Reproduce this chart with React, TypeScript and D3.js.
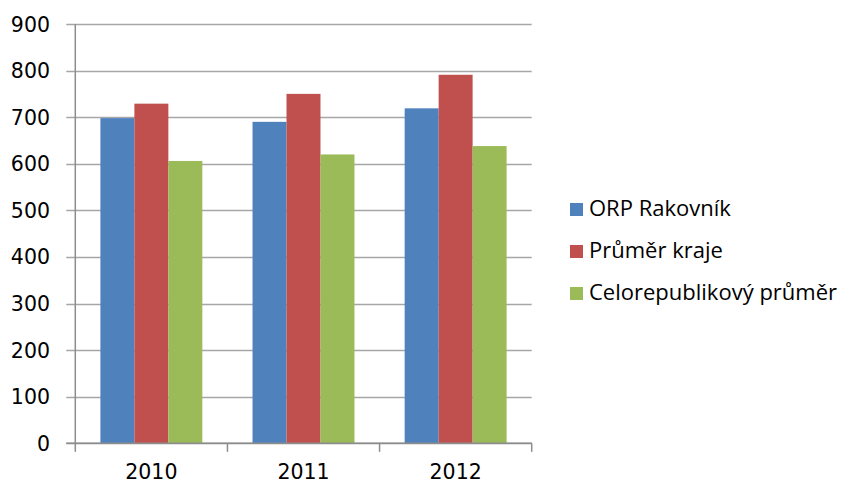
import { useEffect, useRef } from "react";
import * as d3 from "d3";

// data
const years = ["2010", "2011", "2012"];
const seriesNames = ["ORP Rakovník", "Průměr kraje", "Celorepublikový průměr"];
const orpRakovnik = [698, 690, 719];
const prumerKraje = [729, 750, 791];
const celorepublikovy = [606, 620, 638];
const yTicks = [0, 100, 200, 300, 400, 500, 600, 700, 800, 900];
const colors = ["#4F81BD", "#C0504D", "#9BBB59"];

const W = 845;
const H = 483;

export default function App() {
  const ref = useRef<SVGSVGElement | null>(null);

  useEffect(() => {
    if (!ref.current) return;
    const svg = d3.select(ref.current);
    svg.selectAll("*").remove();

    const left = 75.3, right = 531.7, top = 24, bottom = 443.3;
    const values = [orpRakovnik, prumerKraje, celorepublikovy];

    const x = d3.scaleBand<string>().domain(years).range([left, right]).paddingInner(0.33).paddingOuter(0.165);
    const xs = d3.scaleBand<number>().domain(d3.range(seriesNames.length)).range([0, x.bandwidth()]);
    const y = d3.scaleLinear().domain([0, 900]).range([bottom, top]);

    // gridlines + y ticks
    const gy = svg.append("g");
    gy.selectAll("line")
      .data(yTicks)
      .join("line")
      .attr("x1", left - 9)
      .attr("x2", right)
      .attr("y1", d => Math.round(y(d)) + 0.5)
      .attr("y2", d => Math.round(y(d)) + 0.5)
      .attr("stroke", d => (d === 0 ? "#8c8c8c" : "#a6a6a6"))
      .attr("stroke-width", 1.5);
    gy.selectAll("text")
      .data(yTicks)
      .join("text")
      .attr("x", 50)
      .attr("y", d => y(d) + 7.5)
      .attr("text-anchor", "end")
      .attr("font-family", "DejaVu Sans, sans-serif")
      .attr("font-size", 20.5)
      .attr("fill", "#000")
      .text(d => d);

    // bars
    years.forEach((yr, i) => {
      svg.append("g")
        .selectAll("rect")
        .data(values.map((v, s) => ({ s, v: v[i] })))
        .join("rect")
        .attr("x", d => x(yr)! + xs(d.s)!)
        .attr("y", d => y(d.v))
        .attr("width", xs.bandwidth())
        .attr("height", d => bottom - y(d.v))
        .attr("fill", d => colors[d.s]);
    });

    // axes lines
    svg.append("line")
      .attr("x1", left).attr("x2", left)
      .attr("y1", top).attr("y2", bottom)
      .attr("stroke", "#8c8c8c").attr("stroke-width", 1.5);
    const bounds = [left, ...years.map(yr => x(yr)! + x.bandwidth() + (x.step() - x.bandwidth()) / 2)];
    svg.append("g")
      .selectAll("line")
      .data(bounds)
      .join("line")
      .attr("x1", d => d).attr("x2", d => d)
      .attr("y1", bottom).attr("y2", bottom + 8.5)
      .attr("stroke", "#8c8c8c").attr("stroke-width", 1.5);
    svg.append("line")
      .attr("x1", left - 9).attr("x2", right)
      .attr("y1", bottom).attr("y2", bottom)
      .attr("stroke", "#8c8c8c").attr("stroke-width", 1.5);

    // x labels
    svg.append("g")
      .selectAll("text")
      .data(years)
      .join("text")
      .attr("x", d => x(d)! + x.bandwidth() / 2)
      .attr("y", 479)
      .attr("text-anchor", "middle")
      .attr("font-family", "DejaVu Sans, sans-serif")
      .attr("font-size", 20.5)
      .text(d => d);

    // legend
    const lg = svg.append("g").attr("transform", "translate(570,203)");
    const row = lg.selectAll("g")
      .data(seriesNames)
      .join("g")
      .attr("transform", (_, i) => `translate(0,${i * 42})`);
    row.append("rect").attr("width", 13).attr("height", 13).attr("fill", (_, i) => colors[i]);
    row.append("text")
      .attr("x", 19)
      .attr("y", 13)
      .attr("font-family", "Open Sans, sans-serif")
      .attr("font-size", 22)
      .text(d => d);
  }, []);

  return (
    <svg
      ref={ref}
      width={W}
      height={H}
      style={{ position: "absolute", left: 0, top: 0, background: "#fff" }}
    />
  );
}
